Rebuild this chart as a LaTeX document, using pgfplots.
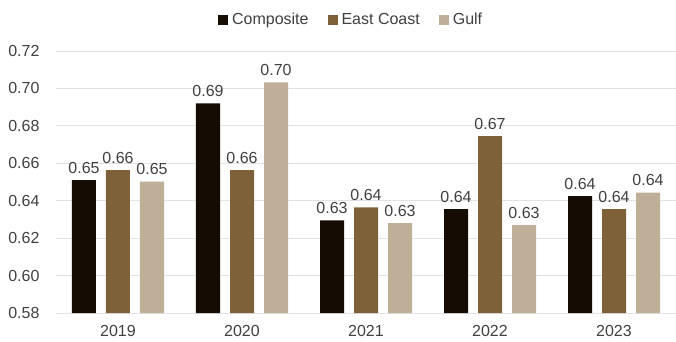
\documentclass[border=0pt]{standalone}
\usepackage{fontspec}
\setmainfont{Liberation Sans}
\usepackage{pgfplots}
\pgfplotsset{compat=1.18}
\usetikzlibrary{calc}

\definecolor{composite}{HTML}{150D03}
\definecolor{eastcoast}{HTML}{7F6139}
\definecolor{gulf}{HTML}{BFAE98}
\definecolor{textgray}{HTML}{404040}
\definecolor{gridgray}{HTML}{E3E3E3}

\pgfplotsset{
  sq legend/.style={legend image code/.code={\fill[##1,draw=none] (0bp,-4.5bp) rectangle (10bp,5.5bp);}},
}

\begin{document}
\fontsize{16bp}{19bp}\selectfont
\begin{tikzpicture}
\begin{axis}[
  name=ax,
  width=620bp, height=262bp, scale only axis,
  xmin=-0.5, xmax=4.5,
  ymin=0.58, ymax=0.72,
  ybar=10bp, bar width=24bp,
  xtick={0,1,2,3,4},
  xticklabels={2019,2020,2021,2022,2023},
  ytick={0.58,0.60,...,0.721},
  ymajorgrids,
  grid style={draw=gridgray, line width=0.8bp},
  axis line style={draw=none},
  major tick length=0pt,
  /pgf/number format/assume math mode=true,
  yticklabel={\pgfmathprintnumber[fixed,zerofill,precision=2]{\tick}},
  tick label style={font=\fontsize{16bp}{19bp}\selectfont, color=textgray},
  yticklabel style={xshift=-11bp},
  xticklabel style={yshift=-7bp},
  nodes near coords={\pgfmathprintnumber[fixed,zerofill,precision=2]{\pgfplotspointmeta}},
  every node near coord/.append style={font=\fontsize{16bp}{19bp}\selectfont, color=textgray, yshift=1bp},
  point meta=y,
  legend style={at={(0.476,1.118)}, anchor=center, legend columns=-1, draw=none,
    font=\fontsize{16bp}{19bp}\selectfont, text=textgray,
    /tikz/every odd column/.append style={column sep=2bp},
    /tikz/every even column/.append style={column sep=17bp},
    nodes={inner sep=2bp}},
  clip=false,
]
\addplot[fill=composite, draw=none, sq legend] coordinates {(0,0.651) (1,0.692) (2,0.6295) (3,0.6355) (4,0.6425)};
\addplot[fill=eastcoast, draw=none, sq legend] coordinates {(0,0.6563) (1,0.6563) (2,0.6365) (3,0.6745) (4,0.6355)};
\addplot[fill=gulf, draw=none, sq legend] coordinates {(0,0.6502) (1,0.7032) (2,0.628) (3,0.627) (4,0.6443)};
\legend{Composite, East Coast, Gulf}
\end{axis}
\pgfresetboundingbox
\path ($(ax.south west)+(-56bp,-29bp)$) rectangle ($(ax.north east)+(0bp,51bp)$);
\end{tikzpicture}
\end{document}
